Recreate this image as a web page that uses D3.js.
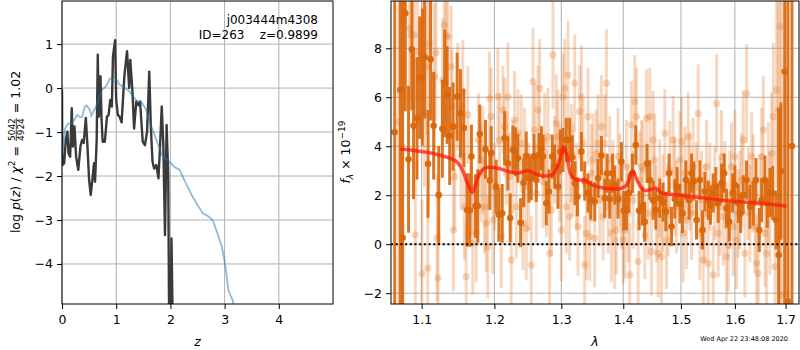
<!DOCTYPE html>
<html>
<head>
<meta charset="utf-8">
<script src="https://cdn.jsdelivr.net/npm/d3@7"></script>
<style>
  body { margin: 0; background: #fff; }
  svg { display: block; font-family: "DejaVu Sans", sans-serif; }
</style>
</head>
<body>
<svg id="chart" width="800" height="350"></svg>
<script>
// ---- left panel: log p(z) ----
const zTicks = [0, 1, 2, 3, 4]
const pTicks = [1, 0, -1, -2, -3, -4]

// template fit p(z), light blue
const pzFit = [
  [0.0, -1.55], [0.02, -1.33], [0.06, -0.91], [0.11, -0.81], [0.17, -0.81], [0.23, -0.72],
  [0.28, -0.61], [0.33, -0.66], [0.37, -0.66], [0.42, -0.42], [0.46, -0.40], [0.51, -0.49],
  [0.54, -0.63], [0.58, -0.53], [0.63, -0.42], [0.69, -0.19], [0.75, -0.02], [0.82, 0.05],
  [0.88, 0.21], [0.97, 0.24], [1.01, 0.19], [1.06, 0.08], [1.15, 0.02], [1.25, -0.08],
  [1.31, -0.19], [1.37, -0.28], [1.46, -0.30], [1.55, -0.49], [1.64, -0.84], [1.74, -1.18],
  [1.86, -1.56], [1.98, -1.67], [2.07, -1.79], [2.17, -1.86], [2.23, -2.02], [2.32, -2.25],
  [2.41, -2.47], [2.50, -2.66], [2.60, -2.85], [2.69, -2.91], [2.78, -3.00], [2.87, -3.31],
  [2.95, -3.61], [3.01, -4.00], [3.07, -4.60], [3.15, -4.83], [3.20, -5.10]
]

// grism p(z), dark grey
const pzLine = [
  [0.0, -0.04], [0.005, -1.75], [0.04, -1.71], [0.07, -1.18], [0.10, -0.99], [0.12, -1.48],
  [0.15, -1.56], [0.18, -0.46], [0.20, -1.33], [0.23, -0.87], [0.26, -1.56], [0.30, -1.86],
  [0.34, -1.33], [0.37, -1.18], [0.40, -1.25], [0.44, -0.68], [0.47, -1.33], [0.50, -2.09],
  [0.53, -2.43], [0.56, -2.09], [0.59, -1.71], [0.61, -2.13], [0.64, -1.18], [0.66, 0.76],
  [0.68, -0.65], [0.71, 0.27], [0.73, -0.72], [0.75, -1.22], [0.79, -1.22], [0.83, -0.65],
  [0.86, -0.61], [0.89, -0.27], [0.92, -0.42], [0.94, 0.72], [0.98, 1.09], [1.00, -0.27],
  [1.03, -0.61], [1.06, -0.65], [1.10, -0.78], [1.15, 0.26], [1.20, 0.84], [1.24, 0.00],
  [1.26, 0.64], [1.30, -0.08], [1.33, -0.92], [1.37, -0.31], [1.41, -0.39], [1.44, -0.31],
  [1.49, -1.22], [1.53, -1.30], [1.57, -0.99], [1.61, 0.37], [1.64, -0.92], [1.67, -1.67],
  [1.70, -1.83], [1.74, -1.75], [1.78, -2.05], [1.81, -1.30], [1.84, -0.42], [1.87, -1.30],
  [1.90, -3.34], [1.93, -0.84], [1.96, -1.98], [1.98, -6.0], [2.00, -6.0], [2.02, -3.42],
  [2.05, -6.0]
]

// ---- right panel: spectrum ----
const lamTicks = [1.1, 1.2, 1.3, 1.4, 1.5, 1.6, 1.7]
const fTicks = [-2, 0, 2, 4, 6, 8]

// [wavelength, flux, error] – light individual-exposure points
const lightPoints = [
  [1.0700, 5.0, 20], [1.0745, 4.0, 20], [1.0766, 9.15, 3.5], [1.0838, 8.81, 3], [1.0860, 8.54, 3],
  [1.0904, 8.54, 3], [1.0917, 0.38, 3], [1.0947, 7.86, 3], [1.1005, -1.21, 3], [1.1013, 9.15, 3],
  [1.1036, 5.34, 3], [1.1071, 7.25, 2.8], [1.1080, -0.97, 3], [1.1102, 8.20, 3], [1.1169, 6.84, 3],
  [1.1191, 7.82, 2.8], [1.1205, 0.26, 2.6], [1.1218, -1.38, 2.5], [1.1281, 6.72, 2.5], [1.1303, 8.95, 2.5],
  [1.1326, 8.54, 2.4], [1.1348, 8.47, 2.5], [1.1394, 7.25, 2.5], [1.1408, 5.62, 2.3], [1.1426, 0.58, 2.5],
  [1.1444, 2.76, 2.2], [1.1486, 6.02, 2.2], [1.1532, 3.58, 2.2], [1.1555, 6.23, 2.1], [1.1578, 1.53, 2.2],
  [1.1601, -1.32, 2.2], [1.1624, 5.28, 2.0], [1.1671, 2.35, 2.0], [1.1694, 0.04, 2.1], [1.1741, 0.45, 2.0],
  [1.1774, 4.26, 1.9], [1.1811, 2.90, 2.0], [1.1835, 3.44, 2.2], [1.1859, 1.53, 1.9], [1.1883, 0.85, 2.0],
  [1.1906, -0.10, 2.1], [1.1930, 5.96, 1.9], [1.1954, 5.21, 2.0], [1.1978, 0.99, 2.2], [1.2002, 2.35, 1.8],
  [1.2050, 6.02, 2.0], [1.2074, 4.26, 1.9], [1.2098, 0.31, 2.1], [1.2123, 5.48, 1.8], [1.2147, 4.80, 2.0],
  [1.2171, 3.51, 1.9], [1.2195, 6.02, 2.2], [1.2219, 2.76, 1.8], [1.2244, -0.64, 2.0], [1.2268, 3.17, 1.9],
  [1.2293, 5.07, 2.0], [1.2318, 1.53, 2.1], [1.2342, 4.53, 1.8], [1.2392, 4.12, 2.0], [1.2417, 0.85, 1.9],
  [1.2441, 3.58, 2.0], [1.2466, 0.65, 2.1], [1.2501, 2.35, 1.8], [1.2541, -0.85, 2.0], [1.2567, 6.64, 2.2],
  [1.2592, 4.66, 1.9], [1.2617, 2.08, 2.0], [1.2642, 5.48, 1.8], [1.2667, 6.37, 2.0], [1.2718, 2.56, 1.9],
  [1.2743, 4.19, 2.0], [1.2768, 2.08, 1.8], [1.2794, 4.39, 2.0], [1.2819, -0.37, 2.1], [1.2845, 1.40, 1.9],
  [1.2871, 7.73, 2.2], [1.2896, 3.44, 1.8], [1.2922, 4.94, 2.0], [1.2948, 4.39, 1.9], [1.2974, 2.90, 2.0],
  [1.3000, 0.58, 2.1], [1.3026, 6.02, 1.8], [1.3052, 6.37, 2.0], [1.3078, 1.53, 1.9], [1.3104, 6.91, 2.2],
  [1.3130, 1.13, 1.8], [1.3157, 3.71, 2.0], [1.3183, 3.03, 1.9], [1.3210, 6.57, 2.0], [1.3236, 2.35, 1.8],
  [1.3263, 0.72, 2.0], [1.3289, 5.41, 1.9], [1.3316, 6.02, 2.1], [1.3342, 4.12, 1.8], [1.3369, -0.85, 2.0],
  [1.3396, 0.45, 1.9], [1.3422, 5.21, 2.0], [1.3449, 0.31, 1.8], [1.3476, 2.90, 2.0], [1.3503, 3.44, 1.9],
  [1.3530, 0.24, 2.0], [1.3557, 3.71, 1.8], [1.3584, 4.12, 2.0], [1.3611, 1.81, 1.9], [1.3638, 4.80, 2.1],
  [1.3666, 1.13, 1.8], [1.3693, 4.12, 2.0], [1.3720, 6.57, 2.2], [1.3748, 1.53, 1.9], [1.3775, 3.44, 1.8],
  [1.3803, 0.45, 2.0], [1.3830, 2.35, 1.9], [1.3858, 0.17, 2.0], [1.3886, 0.58, 1.8], [1.3913, 3.58, 2.0],
  [1.3941, 2.62, 1.9], [1.3969, 1.81, 2.0], [1.3997, 0.17, 1.8], [1.4025, 0.58, 2.0], [1.4053, 3.17, 1.9],
  [1.4081, 1.26, 2.0], [1.4109, -1.25, 2.1], [1.4137, 4.87, 1.8], [1.4165, 1.81, 2.0], [1.4194, 5.82, 1.9],
  [1.4222, 5.21, 2.0], [1.4251, -0.71, 1.8], [1.4279, 2.62, 2.0], [1.4308, 3.17, 1.9], [1.4336, 3.03, 2.0],
  [1.4365, 0.38, 1.8], [1.4394, 5.14, 2.0], [1.4422, 1.26, 1.9], [1.4451, 5.21, 2.0], [1.4480, -0.30, 1.8],
  [1.4509, 4.26, 2.0], [1.4538, 3.44, 1.9], [1.4567, 1.26, 2.0], [1.4596, -0.37, 1.8], [1.4625, 2.28, 2.0],
  [1.4654, -0.51, 1.9], [1.4684, 1.67, 2.0], [1.4713, 4.53, 1.8], [1.4743, 0.17, 2.0], [1.4772, 1.40, 1.9],
  [1.4801, 3.03, 2.0], [1.4861, 4.26, 1.8], [1.4890, 2.35, 2.0], [1.4920, 1.53, 1.9], [1.4980, 3.44, 2.0],
  [1.5010, 4.19, 1.8], [1.5040, 0.45, 2.0], [1.5070, 2.90, 1.9], [1.5100, 0.99, 2.0], [1.5130, 4.39, 1.8],
  [1.5160, 2.56, 2.0], [1.5191, 1.26, 1.9], [1.5221, 3.17, 2.0], [1.5282, 2.35, 1.8], [1.5313, 5.34, 2.0],
  [1.5343, 0.45, 1.9], [1.5374, 1.81, 2.0], [1.5405, -0.64, 1.8], [1.5435, 1.26, 2.0], [1.5466, 3.17, 1.9],
  [1.5497, -0.78, 2.0], [1.5528, 2.35, 1.8], [1.5590, -1.25, 2.0], [1.5621, 2.08, 1.9], [1.5653, 5.75, 2.0],
  [1.5684, 0.45, 1.8], [1.5715, 1.53, 2.0], [1.5746, 3.58, 1.9], [1.5778, 1.13, 2.0], [1.5809, 2.42, 1.8],
  [1.5841, -0.51, 2.0], [1.5872, -0.03, 1.9], [1.5904, 1.81, 2.0], [1.5936, 3.17, 1.8], [1.5968, 0.72, 2.0],
  [1.6000, 3.58, 1.9], [1.6032, 0.17, 2.0], [1.6064, 1.26, 1.8], [1.6096, 1.81, 2.0], [1.6128, 2.62, 1.9],
  [1.6160, 4.26, 2.0], [1.6193, -0.37, 1.8], [1.6225, 6.16, 2.0], [1.6258, 2.08, 1.9], [1.6290, 1.26, 2.0],
  [1.6323, 3.58, 1.8], [1.6355, 2.49, 2.0], [1.6388, 0.72, 1.9], [1.6421, -0.78, 2.0], [1.6454, -1.19, 1.8],
  [1.6486, 1.67, 2.0], [1.6520, 3.58, 2.0], [1.6553, 4.66, 2.2], [1.6586, 0.45, 2.2], [1.6619, -0.37, 2.2],
  [1.6652, 2.49, 2.5], [1.6685, 1.26, 2.5], [1.6719, 3.71, 2.5], [1.6752, 5.21, 3.0], [1.6786, -0.91, 3.0],
  [1.6819, 6.30, 4.0], [1.6850, 5.5, 20], [1.6886, 8.88, 20], [1.6920, -2.07, 20]
]

// [wavelength, flux, error] – dark binned points
const darkPoints = [
  [1.0651, 4.57, 20], [1.0723, 6.30, 20], [1.0753, 0.26, 20], [1.0787, 9.43, 4.0], [1.0829, 3.47, 3.0],
  [1.0873, 7.96, 2.5], [1.0894, 4.84, 3.0], [1.0939, 5.14, 2.5], [1.0974, 6.80, 2.5], [1.1009, 6.82, 2.8],
  [1.1040, 7.63, 2.5], [1.1085, 3.28, 2.2], [1.1119, 7.55, 2.5], [1.1159, 4.84, 2.2], [1.1227, 2.01, 2.0],
  [1.1276, 4.71, 2.0], [1.1308, 6.57, 2.2], [1.1340, 6.09, 2.0], [1.1375, 4.42, 2.0], [1.1422, 4.80, 1.8],
  [1.1477, 6.02, 1.8], [1.1523, 5.35, 1.8], [1.1569, 4.75, 1.6], [1.1615, 1.40, 1.5], [1.1652, 1.39, 1.5],
  [1.1675, 3.58, 1.3], [1.1732, 1.56, 1.3], [1.1764, 1.56, 1.5], [1.1792, 4.50, 1.2], [1.1873, 3.88, 1.2],
  [1.1934, 2.60, 1.2], [1.1954, 3.72, 1.1], [1.2026, 2.35, 1.1], [1.2064, 1.20, 1.1], [1.2113, 1.26, 1.2],
  [1.2147, 4.33, 1.1], [1.2195, 3.30, 1.1], [1.2229, 1.07, 1.0], [1.2268, 3.85, 1.0], [1.2308, 3.78, 1.0],
  [1.2342, 3.51, 1.0], [1.2382, 0.88, 1.0], [1.2426, 2.51, 1.0], [1.2466, 3.60, 1.0], [1.2506, 2.69, 1.0],
  [1.2542, 2.69, 0.9], [1.2581, 3.60, 0.9], [1.2617, 2.62, 0.9], [1.2656, 3.64, 0.9], [1.2693, 3.92, 0.9],
  [1.2718, 3.58, 0.9], [1.2769, 1.67, 0.9], [1.2809, 2.15, 0.9], [1.2860, 3.58, 0.9], [1.2896, 3.17, 0.9],
  [1.2948, 2.35, 0.9], [1.2985, 3.78, 0.9], [1.3026, 3.85, 0.9], [1.3078, 4.26, 0.9], [1.3130, 4.26, 0.9],
  [1.3173, 3.55, 0.9], [1.3214, 2.49, 0.9], [1.3252, 1.94, 0.8], [1.3316, 3.78, 0.8], [1.3369, 2.58, 0.8],
  [1.3422, 2.09, 0.8], [1.3465, 1.80, 0.8], [1.3530, 1.74, 0.8], [1.3584, 2.69, 0.8], [1.3639, 3.62, 0.8],
  [1.3693, 1.88, 0.8], [1.3731, 2.90, 0.8], [1.3775, 1.85, 0.8], [1.3820, 2.90, 0.8], [1.3858, 2.42, 0.8],
  [1.3913, 1.85, 0.8], [1.3969, 3.37, 0.8], [1.4008, 1.37, 0.8], [1.4053, 1.37, 0.8], [1.4097, 2.09, 0.8],
  [1.4154, 2.90, 0.8], [1.4211, 4.05, 0.8], [1.4267, 1.37, 0.8], [1.4325, 1.56, 0.8], [1.4364, 0.92, 0.8],
  [1.4404, 3.30, 0.8], [1.4451, 2.62, 0.8], [1.4508, 1.80, 0.8], [1.4555, 1.40, 0.8], [1.4625, 1.88, 0.8],
  [1.4683, 1.72, 0.8], [1.4731, 1.33, 0.8], [1.4789, 2.90, 0.8], [1.4831, 0.72, 0.8], [1.4890, 1.85, 0.8],
  [1.4932, 2.35, 0.8], [1.4980, 1.65, 0.8], [1.5028, 1.26, 0.8], [1.5088, 2.62, 0.8], [1.5147, 1.80, 0.8],
  [1.5191, 2.90, 0.8], [1.5233, 2.58, 0.8], [1.5282, 0.99, 0.8], [1.5343, 2.62, 0.8], [1.5392, 0.58, 0.8],
  [1.5435, 2.15, 0.8], [1.5497, 1.80, 0.8], [1.5541, 1.60, 0.8], [1.5590, 2.09, 0.8], [1.5640, 2.35, 0.8],
  [1.5683, 1.67, 0.8], [1.5747, 2.49, 0.8], [1.5796, 2.90, 0.8], [1.5841, 1.47, 0.8], [1.5891, 0.92, 0.8],
  [1.5956, 2.09, 0.8], [1.6000, 2.42, 0.8], [1.6063, 1.67, 0.8], [1.6109, 1.26, 0.8], [1.6160, 2.02, 0.8],
  [1.6225, 2.62, 0.8], [1.6290, 1.53, 0.9], [1.6355, 1.67, 0.9], [1.6408, 2.62, 0.9], [1.6473, 0.58, 0.9],
  [1.6520, 1.80, 0.9], [1.6585, 2.62, 1.0], [1.6631, 1.67, 1.0], [1.6685, 2.11, 1.0], [1.6739, 2.09, 1.1],
  [1.6805, 0.99, 1.2], [1.6860, -0.44, 6.0], [1.6906, 2.99, 2.8], [1.6982, 7.05, 20], [1.7048, -2.34, 20],
  [1.7130, 4.01, 20]
]

// best-fit model, red
const modelLine = [
  [1.0722, 3.89], [1.1416, 3.47], [1.1550, 3.03], [1.1640, 2.35], [1.1690, 2.11], [1.1750, 2.62],
  [1.1820, 3.00], [1.1910, 3.14], [1.2050, 3.10], [1.2220, 2.96], [1.2340, 2.90], [1.2490, 3.00],
  [1.2560, 2.92], [1.2720, 2.79], [1.2820, 2.80], [1.2900, 2.96], [1.2985, 3.51], [1.3035, 3.98],
  [1.3089, 3.58], [1.3140, 2.90], [1.3245, 2.62], [1.3350, 2.62], [1.3490, 2.42], [1.3700, 2.29],
  [1.3920, 2.26], [1.4060, 2.42], [1.4160, 3.00], [1.4230, 2.62], [1.4370, 2.19], [1.4480, 2.24],
  [1.4550, 2.29], [1.4660, 2.08], [1.4960, 2.01], [1.5450, 1.88], [1.5900, 1.77], [1.6490, 1.67],
  [1.7020, 1.56]
]

const svg = d3.select('#chart')
const gridColor = '#b0b0b0'

// ================= left panel =================
const L = { x0: 62, x1: 333, y0: 1, y1: 304 }
const zScale = d3.scaleLinear().domain([0, 5]).range([L.x0, L.x1])
const pScale = d3.scaleLinear().domain([-4.91, 1.98]).range([L.y1, L.y0])

svg.append('clipPath').attr('id', 'clipL')
  .append('rect').attr('x', L.x0).attr('y', L.y0).attr('width', L.x1 - L.x0).attr('height', L.y1 - L.y0)

const left = svg.append('g')
left.selectAll('line.gx').data(zTicks).enter().append('line')
  .attr('x1', d => zScale(d)).attr('x2', d => zScale(d))
  .attr('y1', L.y0).attr('y2', L.y1)
  .attr('stroke', gridColor).attr('stroke-width', 1)
left.selectAll('line.gy').data(pTicks).enter().append('line')
  .attr('x1', L.x0).attr('x2', L.x1)
  .attr('y1', d => pScale(d)).attr('y2', d => pScale(d))
  .attr('stroke', gridColor).attr('stroke-width', 1)

const pzPath = d3.line().x(d => zScale(d[0])).y(d => pScale(d[1]))
const leftData = left.append('g').attr('clip-path', 'url(#clipL)')
leftData.append('path').datum(pzLine).attr('d', pzPath)
  .attr('fill', 'none').attr('stroke', '#3a3a3a').attr('stroke-width', 2.4)
  .attr('stroke-linejoin', 'round')
leftData.append('path').datum(pzFit).attr('d', pzPath)
  .attr('fill', 'none').attr('stroke', '#1f77b4').attr('stroke-opacity', 0.5).attr('stroke-width', 1.8)

left.append('rect').attr('x', L.x0).attr('y', L.y0).attr('width', L.x1 - L.x0).attr('height', L.y1 - L.y0)
  .attr('fill', 'none').attr('stroke', '#000').attr('stroke-width', 1)

const styleAxis = (g) => {
  g.select('.domain').remove()
  g.selectAll('.tick line').attr('stroke', '#000')
  g.selectAll('.tick text').attr('font-size', 12.5).attr('fill', '#000')
    .attr('font-family', '"DejaVu Sans", sans-serif')
}

svg.append('g').attr('transform', `translate(0,${L.y1})`)
  .call(d3.axisBottom(zScale).tickValues(zTicks).tickFormat(d3.format('d')).tickSize(5).tickPadding(6))
  .call(styleAxis)
svg.append('g').attr('transform', `translate(${L.x0},0)`)
  .call(d3.axisLeft(pScale).tickValues(pTicks).tickFormat(d3.format('d')).tickSize(5).tickPadding(4))
  .call(styleAxis)

svg.append('text').attr('x', 318).attr('y', 24).attr('text-anchor', 'end')
  .attr('font-size', 12).text('j003444m4308')
svg.append('text').attr('x', 318).attr('y', 39).attr('text-anchor', 'end')
  .attr('font-size', 12).attr('xml:space', 'preserve').text('ID=263    z=0.9899')

svg.append('text').attr('x', (L.x0 + L.x1) / 2).attr('y', 346).attr('text-anchor', 'middle')
  .attr('font-size', 12.5).attr('font-style', 'italic').text('z')

// rotated y label with a stacked fraction
const ylab = svg.append('g').attr('transform', 'translate(19.5,152) rotate(-90)')
const lab1 = ylab.append('text').attr('font-size', 12.5).attr('xml:space', 'preserve')
lab1.append('tspan').text('log ')
lab1.append('tspan').attr('font-style', 'italic').text('p')
lab1.append('tspan').text('(')
lab1.append('tspan').attr('font-style', 'italic').text('z')
lab1.append('tspan').text(') / ')
lab1.append('tspan').attr('font-style', 'italic').text('χ')
lab1.append('tspan').attr('font-size', 9).attr('dy', -5).text('2')
lab1.append('tspan').attr('dy', 5).text(' = ')
const w1 = lab1.node().getComputedTextLength()
const num = ylab.append('text').attr('font-size', 9).attr('text-anchor', 'middle').attr('y', -4.5).text('5042')
const wf = num.node().getComputedTextLength() + 2
num.attr('x', w1 + wf / 2)
ylab.append('text').attr('font-size', 9).attr('text-anchor', 'middle').attr('x', w1 + wf / 2).attr('y', 4).text('4924')
ylab.append('line').attr('x1', w1 + 1).attr('x2', w1 + wf - 1).attr('y1', -3.2).attr('y2', -3.2)
  .attr('stroke', '#000').attr('stroke-width', 0.7)
const lab3 = ylab.append('text').attr('font-size', 12.5).attr('x', w1 + wf).attr('xml:space', 'preserve').text(' = 1.02')
const wTot = w1 + wf + lab3.node().getComputedTextLength()
ylab.selectAll('text, line').attr('transform', `translate(${-wTot / 2},0)`)

// ================= right panel =================
const R = { x0: 391, x1: 799, y0: 1, y1: 304 }
const lamScale = d3.scaleLog().domain([1.0604, 1.7275]).range([R.x0, R.x1])
const fScale = d3.scaleLinear().domain([-2.44, 9.93]).range([R.y1, R.y0])

svg.append('clipPath').attr('id', 'clipR')
  .append('rect').attr('x', R.x0).attr('y', R.y0).attr('width', R.x1 - R.x0).attr('height', R.y1 - R.y0)

const right = svg.append('g')
right.selectAll('line.gx').data(lamTicks).enter().append('line')
  .attr('x1', d => lamScale(d)).attr('x2', d => lamScale(d))
  .attr('y1', R.y0).attr('y2', R.y1)
  .attr('stroke', gridColor).attr('stroke-width', 1)
right.selectAll('line.gy').data(fTicks).enter().append('line')
  .attr('x1', R.x0).attr('x2', R.x1)
  .attr('y1', d => fScale(d)).attr('y2', d => fScale(d))
  .attr('stroke', gridColor).attr('stroke-width', 1)

const spec = right.append('g').attr('clip-path', 'url(#clipR)')
const lightColor = '#e57a2a'
const darkColor = '#d9670b'

spec.selectAll('line.le').data(lightPoints).enter().append('line')
  .attr('x1', d => lamScale(d[0])).attr('x2', d => lamScale(d[0]))
  .attr('y1', d => fScale(d[1] - d[2])).attr('y2', d => fScale(d[1] + d[2]))
  .attr('stroke', lightColor).attr('stroke-opacity', 0.3).attr('stroke-width', 3)
spec.selectAll('circle.lp').data(lightPoints).enter().append('circle')
  .attr('cx', d => lamScale(d[0])).attr('cy', d => fScale(d[1])).attr('r', 3.6)
  .attr('fill', lightColor).attr('fill-opacity', 0.3)

spec.selectAll('line.de').data(darkPoints).enter().append('line')
  .attr('x1', d => lamScale(d[0])).attr('x2', d => lamScale(d[0]))
  .attr('y1', d => fScale(d[1] - d[2])).attr('y2', d => fScale(d[1] + d[2]))
  .attr('stroke', darkColor).attr('stroke-opacity', 0.9).attr('stroke-width', 3)
spec.selectAll('circle.dp').data(darkPoints).enter().append('circle')
  .attr('cx', d => lamScale(d[0])).attr('cy', d => fScale(d[1])).attr('r', 3.3)
  .attr('fill', darkColor).attr('fill-opacity', 0.95)

spec.append('path').datum(modelLine)
  .attr('d', d3.line().curve(d3.curveMonotoneX).x(d => lamScale(d[0])).y(d => fScale(d[1])))
  .attr('fill', 'none').attr('stroke', '#ff1a0a').attr('stroke-opacity', 0.75).attr('stroke-width', 3.5)

spec.append('line').attr('x1', R.x0).attr('x2', R.x1)
  .attr('y1', fScale(0)).attr('y2', fScale(0))
  .attr('stroke', '#000').attr('stroke-width', 2).attr('stroke-dasharray', '2,2.7')

right.append('rect').attr('x', R.x0).attr('y', R.y0).attr('width', R.x1 - R.x0).attr('height', R.y1 - R.y0)
  .attr('fill', 'none').attr('stroke', '#000').attr('stroke-width', 1)

svg.append('g').attr('transform', `translate(0,${R.y1})`)
  .call(d3.axisBottom(lamScale).tickValues(lamTicks).tickFormat(d3.format('.1f')).tickSize(5).tickPadding(6))
  .call(styleAxis)
svg.append('g').attr('transform', `translate(${R.x0},0)`)
  .call(d3.axisLeft(fScale).tickValues(fTicks).tickFormat(d3.format('d')).tickSize(5).tickPadding(4))
  .call(styleAxis)

svg.append('text').attr('x', (R.x0 + R.x1) / 2).attr('y', 346).attr('text-anchor', 'middle')
  .attr('font-size', 12.5).attr('font-style', 'italic').text('λ')

const flab = svg.append('text').attr('transform', 'translate(350,152) rotate(-90)')
  .attr('font-size', 12.5).attr('text-anchor', 'middle').attr('xml:space', 'preserve')
flab.append('tspan').attr('font-style', 'italic').text('f')
flab.append('tspan').attr('font-style', 'italic').attr('font-size', 9).attr('dy', 3).text('λ')
flab.append('tspan').attr('dy', -3).text(' × 10')
flab.append('tspan').attr('font-size', 9).attr('dy', -5).text('−19')

svg.append('text').attr('x', 788).attr('y', 341).attr('text-anchor', 'end')
  .attr('font-size', 6.5).text('Wed Apr 22 23:48:08 2020')
</script>
</body>
</html>
